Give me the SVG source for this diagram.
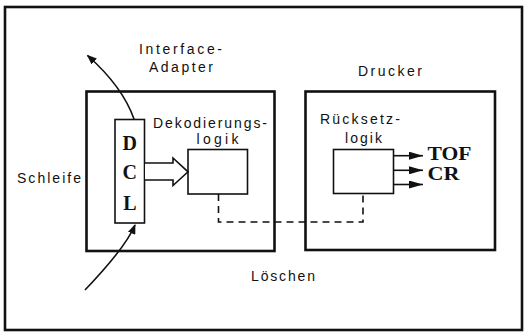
<svg xmlns="http://www.w3.org/2000/svg" width="525" height="333" viewBox="0 0 525 333">
<style>
.s{font-family:"Liberation Sans","DejaVu Sans",sans-serif;font-size:14px;fill:#111}
.b{font-family:"Liberation Serif","DejaVu Serif",serif;font-weight:bold;fill:#111}
.box{fill:none;stroke:#111;stroke-width:2.6}
.thin{fill:#fff;stroke:#111;stroke-width:1.6}
.ln{fill:none;stroke:#111;stroke-width:1.6}
</style>
<defs>
<marker id="ah" viewBox="0 0 10 8" refX="9" refY="4" markerWidth="10" markerHeight="8" markerUnits="userSpaceOnUse" orient="auto">
<path d="M0,0 L10,4 L0,8 Z" fill="#111"/>
</marker>
<marker id="ah2" viewBox="0 0 14 8" refX="14" refY="4" markerWidth="14" markerHeight="8" markerUnits="userSpaceOnUse" orient="auto">
<path d="M0,0 L14,4 L0,8 Z" fill="#111"/>
</marker>
</defs>
<rect width="525" height="333" fill="#fff"/>
<rect x="5" y="7" width="517" height="323" class="box"/>

<g id="interface-adapter">
<rect x="86.5" y="91.5" width="188" height="159.5" class="box"/>
<text class="s" x="139" y="54" textLength="83" lengthAdjust="spacing">Interface-</text>
<text class="s" x="149" y="72" textLength="64" lengthAdjust="spacing">Adapter</text>
</g>

<g id="dcl">
<rect x="115" y="119.5" width="29.5" height="103.5" class="thin"/>
<text class="b" x="129.8" y="150" font-size="20" text-anchor="middle">D</text>
<text class="b" x="129.8" y="179" font-size="20" text-anchor="middle">C</text>
<text class="b" x="129.8" y="210" font-size="20" text-anchor="middle">L</text>
</g>

<g id="dekodierungslogik">
<rect x="188" y="149.5" width="59.5" height="44.5" class="thin"/>
<text class="s" x="153" y="128" textLength="114" lengthAdjust="spacing">Dekodierungs-</text>
<text class="s" x="196.5" y="143.5" textLength="42" lengthAdjust="spacing">logik</text>
</g>

<g id="drucker">
<rect x="305.5" y="91.5" width="189.5" height="158.5" class="box"/>
<text class="s" x="358" y="76" textLength="64" lengthAdjust="spacing">Drucker</text>
</g>

<g id="ruecksetzlogik">
<rect x="333.5" y="149.5" width="60" height="44" class="thin"/>
<text class="s" x="320" y="124" textLength="80" lengthAdjust="spacing">Rücksetz-</text>
<text class="s" x="345" y="143" textLength="37" lengthAdjust="spacing">logik</text>
</g>

<g id="outputs">
<text class="b" x="427.5" y="159.5" font-size="18" textLength="44" lengthAdjust="spacingAndGlyphs">TOF</text>
<text class="b" x="427.5" y="179.5" font-size="18" textLength="32" lengthAdjust="spacingAndGlyphs">CR</text>
</g>

<g id="labels">
<text class="s" x="17" y="183" textLength="64" lengthAdjust="spacing">Schleife</text>
<text class="s" x="251" y="281" textLength="64" lengthAdjust="spacing">Löschen</text>
</g>

<g id="connectors">
<path d="M145,163 H173 V158 L188,171.8 L173,185.5 V180 H145" class="thin" stroke-linejoin="miter"/>
<path d="M85,290 Q126,247 135,225" class="ln" marker-end="url(#ah)"/>
<path d="M134,119 Q122.5,86.5 87.5,55.5" class="ln" marker-end="url(#ah)"/>
<line x1="393.5" y1="155.7" x2="423" y2="155.7" class="ln" marker-end="url(#ah2)"/>
<line x1="393.5" y1="170.3" x2="423" y2="170.3" class="ln" marker-end="url(#ah2)"/>
<line x1="393.5" y1="184.5" x2="423" y2="184.5" class="ln" marker-end="url(#ah2)"/>
<path d="M218.5,194 V222 H363 V193.5" class="ln" stroke-dasharray="7,5"/>
</g>
</svg>
